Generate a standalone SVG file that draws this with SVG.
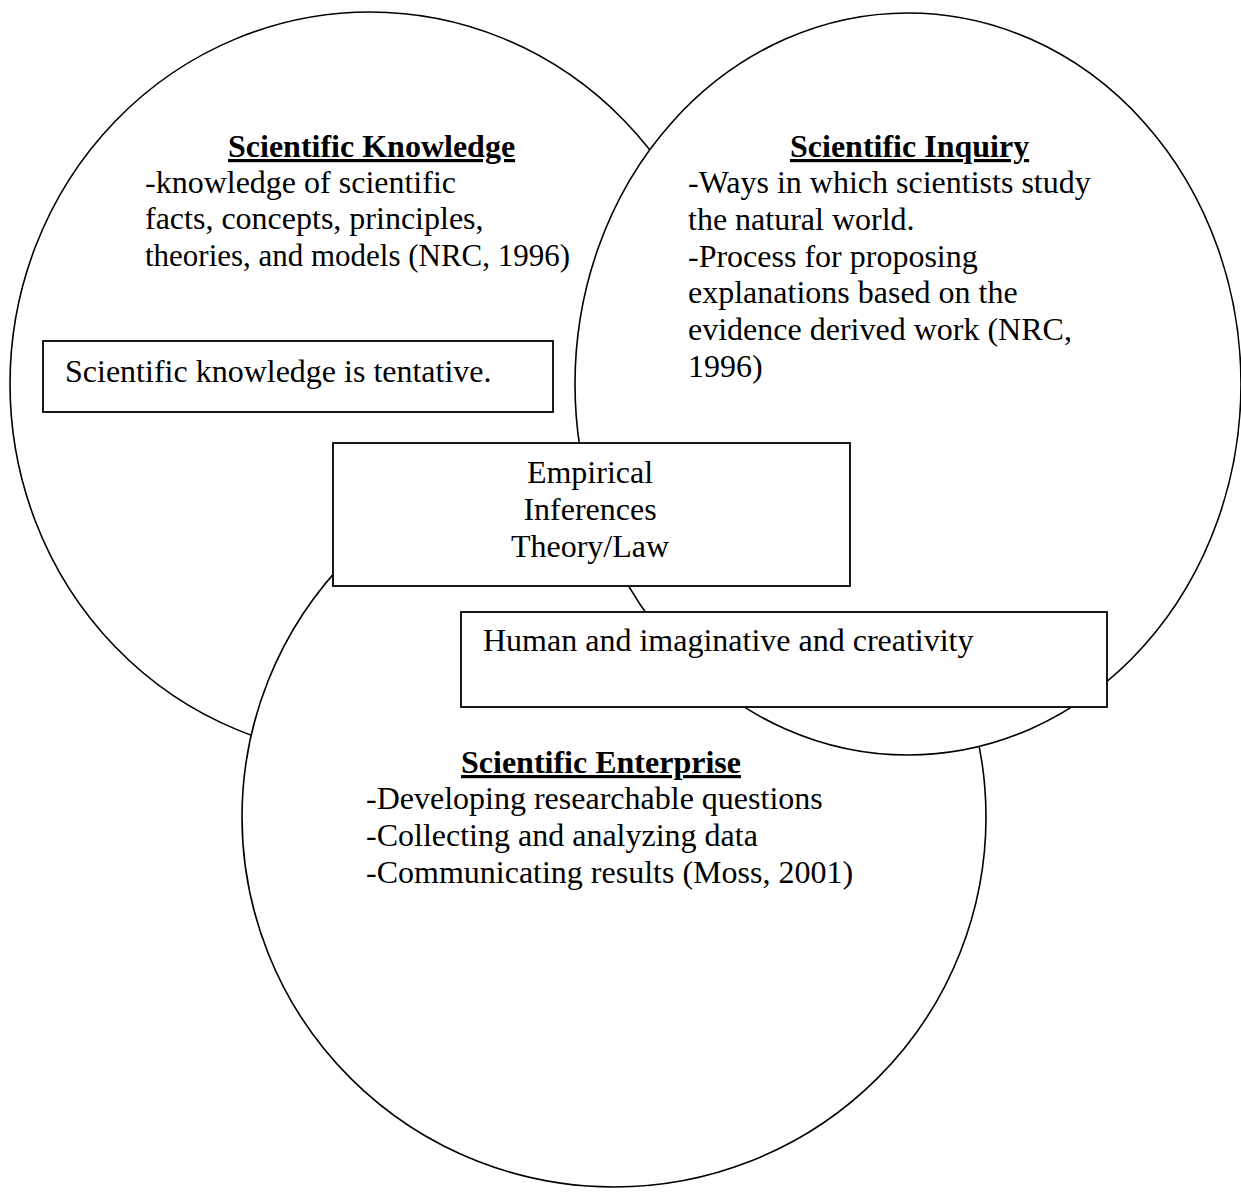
<svg xmlns="http://www.w3.org/2000/svg" width="1241" height="1194" viewBox="0 0 1241 1194">
  <style>
    .ring { fill: #ffffff; stroke: #000000; stroke-width: 1.6; }
    .box { fill: #ffffff; stroke: #000000; stroke-width: 1.8; }
    .t { font-family: "Liberation Serif", "Times New Roman", serif; font-size: 32px; fill: #000000; }
    .title { font-weight: bold; text-decoration: underline; }
    .mid { text-anchor: middle; }
  </style>
  <rect x="0" y="0" width="1241" height="1194" fill="#ffffff"/>

  <!-- the three overlapping domains, back to front -->
  <g id="knowledge">
    <ellipse class="ring" cx="370" cy="384" rx="360" ry="372"/>
  </g>
  <g id="enterprise">
    <ellipse class="ring" cx="614" cy="817" rx="372" ry="370"/>
  </g>
  <g id="inquiry">
    <ellipse class="ring" cx="908" cy="384" rx="333" ry="371"/>
  </g>

  <!-- domain labels -->
  <g id="knowledge-text">
    <text class="t title" x="228" y="157">Scientific Knowledge</text>
    <text class="t" x="145" y="193">-knowledge of scientific</text>
    <text class="t" x="145" y="229">facts, concepts, principles,</text>
    <text class="t" x="145" y="266" textLength="425" lengthAdjust="spacingAndGlyphs">theories, and models (NRC, 1996)</text>
  </g>
  <g id="inquiry-text">
    <text class="t title" x="790" y="157">Scientific Inquiry</text>
    <text class="t" x="688" y="193">-Ways in which scientists study</text>
    <text class="t" x="688" y="230">the natural world.</text>
    <text class="t" x="688" y="267">-Process for proposing</text>
    <text class="t" x="688" y="303">explanations based on the</text>
    <text class="t" x="688" y="340">evidence derived work (NRC,</text>
    <text class="t" x="688" y="377">1996)</text>
  </g>
  <g id="enterprise-text">
    <text class="t title" x="461" y="773">Scientific Enterprise</text>
    <text class="t" x="366" y="809">-Developing researchable questions</text>
    <text class="t" x="366" y="846">-Collecting and analyzing data</text>
    <text class="t" x="366" y="883">-Communicating results (Moss, 2001)</text>
  </g>

  <!-- boxed statements -->
  <g id="tentative">
    <rect class="box" x="43" y="341" width="510" height="71"/>
    <text class="t" x="65" y="382">Scientific knowledge is tentative.</text>
  </g>
  <g id="empirical">
    <rect class="box" x="333" y="443" width="517" height="143"/>
    <text class="t mid" x="590" y="483">Empirical</text>
    <text class="t mid" x="590" y="520">Inferences</text>
    <text class="t mid" x="590" y="557">Theory/Law</text>
  </g>
  <g id="creativity">
    <rect class="box" x="461" y="612" width="646" height="95"/>
    <text class="t" x="483" y="651">Human and imaginative and creativity</text>
  </g>
</svg>
